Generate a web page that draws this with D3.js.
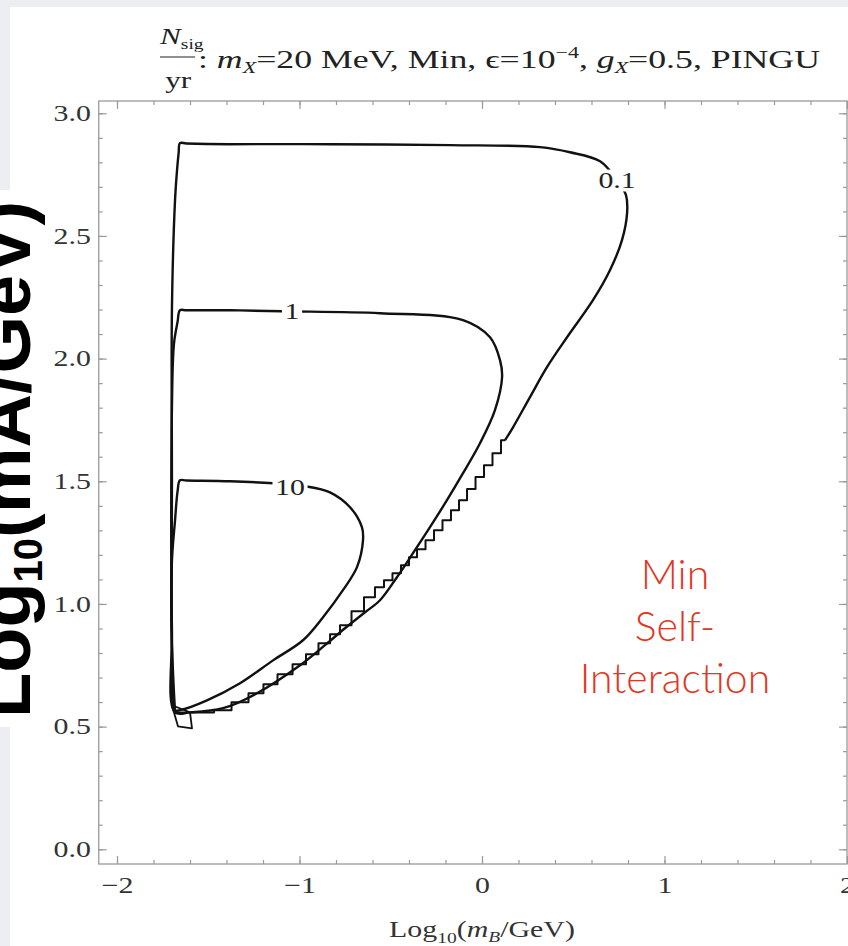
<!DOCTYPE html>
<html>
<head>
<meta charset="utf-8">
<script src="https://cdn.jsdelivr.net/npm/d3@7"></script>
<style>
  body { margin: 0; background: #eceef2; }
  svg { display: block; }
  .tick text { font-family: "Liberation Serif", "Times New Roman", serif; font-size: 23px; fill: #333; }
</style>
</head>
<body>
<div id="box"></div>
<script>
// contour N_sig/yr = 0.1 (outer), smooth part: [log10 mB, log10 mA]
const c01 = [
  [-1.682, 0.558], [-1.699, 0.852], [-1.699, 1.500], [-1.699, 2.200], [-1.682, 2.646],
  [-1.671, 2.768], [-1.662, 2.840], [-1.655, 2.878], [-1.620, 2.877], [-1.381, 2.874],
  [-0.833, 2.874], [-0.175, 2.870], [0.318, 2.862], [0.482, 2.841], [0.647, 2.804],
  [0.740, 2.727], [0.789, 2.666], [0.795, 2.593], [0.767, 2.483], [0.701, 2.360],
  [0.608, 2.238], [0.466, 2.087], [0.356, 1.965], [0.263, 1.843], [0.170, 1.720],
  [0.126, 1.667]
];
// contour 0.1, jagged lower edge
const c01jag = [
  [0.126, 1.667], [0.082, 1.614], [0.033, 1.565], [-0.011, 1.517], [-0.060, 1.468],
  [-0.104, 1.423], [-0.148, 1.382], [-0.192, 1.341], [-0.241, 1.300], [-0.285, 1.260],
  [-0.334, 1.223], [-0.378, 1.190], [-0.422, 1.158], [-0.466, 1.125], [-0.515, 1.097],
  [-0.559, 1.068], [-0.614, 1.027], [-0.679, 0.970], [-0.751, 0.913], [-0.805, 0.876],
  [-0.860, 0.840], [-0.932, 0.795], [-0.997, 0.754], [-1.079, 0.713], [-1.162, 0.673],
  [-1.233, 0.636], [-1.326, 0.599], [-1.419, 0.567], [-1.518, 0.558], [-1.600, 0.558],
  [-1.682, 0.558]
];
// small artefact at the bottom corner
const c01knot = [[-1.699, 0.587], [-1.666, 0.501], [-1.589, 0.493], [-1.600, 0.558]];

// contour 1
const c1 = [
  [-1.699, 1.800], [-1.688, 2.060], [-1.668, 2.150], [-1.655, 2.197], [-1.620, 2.197],
  [-1.381, 2.197], [-1.096, 2.193], [-0.559, 2.185], [-0.104, 2.157], [0.044, 2.087],
  [0.099, 1.993], [0.110, 1.924], [0.071, 1.790], [-0.011, 1.655], [-0.104, 1.533],
  [-0.192, 1.423], [-0.285, 1.313], [-0.378, 1.207], [-0.466, 1.109], [-0.559, 1.015],
  [-0.641, 0.966], [-0.751, 0.901], [-0.860, 0.832], [-0.997, 0.750], [-1.233, 0.636],
  [-1.419, 0.575], [-1.600, 0.558], [-1.682, 0.558], [-1.699, 0.900]
];

// contour 10
const c10 = [
  [-1.682, 0.567], [-1.699, 0.811], [-1.699, 1.175], [-1.682, 1.341], [-1.668, 1.460],
  [-1.655, 1.504], [-1.620, 1.503], [-1.381, 1.500], [-1.145, 1.492], [-0.970, 1.480],
  [-0.833, 1.455], [-0.723, 1.394], [-0.658, 1.313], [-0.652, 1.260], [-0.685, 1.150],
  [-0.762, 1.056], [-0.871, 0.946], [-0.981, 0.852], [-1.145, 0.770], [-1.326, 0.677],
  [-1.507, 0.607], [-1.655, 0.567]
];

const contourLabels = [
  { text: "0.1", pos: [0.740, 2.727] },
  { text: "1", pos: [-1.041, 2.193] },
  { text: "10", pos: [-1.052, 1.476] }
];

const xMajor = [-2, -1, 0, 1, 2];
const yMajor = [0, 0.5, 1, 1.5, 2, 2.5, 3];
const xMinor = d3.range(-2, 2.01, 0.2);
const yMinor = d3.range(0, 3.01, 0.1);

const W = 848, H = 946;
const frameColor = "#9a9a9a";
const serif = '"Liberation Serif", "Times New Roman", serif';
const stretch = 1.3;

const svg = d3.select('#box').append('svg')
    .attr('width', W)
    .attr('height', H);

svg.append('rect').attr('width', W).attr('height', H).attr('fill', '#eceef2');
svg.append('rect').attr('x', 10).attr('y', 7).attr('width', W - 10).attr('height', H - 7).attr('fill', '#fff');

const x = d3.scaleLinear().domain([-2.1, 2.0]).range([98.75, 847]);
const y = d3.scaleLinear().domain([-0.06, 3.05]).range([864, 101]);

// frame
svg.append('rect')
    .attr('x', x(-2.1)).attr('y', y(3.05))
    .attr('width', x(2.0) - x(-2.1)).attr('height', y(-0.06) - y(3.05))
    .attr('fill', 'none').attr('stroke', frameColor).attr('stroke-width', 1.3);

function styleAxis(g) {
  g.select('.domain').remove();
  g.selectAll('.tick line').attr('stroke', frameColor).attr('stroke-width', 1.2);
}

// bottom
svg.append('g').attr('transform', `translate(0,${y(-0.06)})`)
    .call(d3.axisBottom(x).tickValues(xMinor).tickSize(-4).tickFormat(''))
    .call(styleAxis);
svg.append('g').attr('transform', `translate(0,${y(-0.06)})`)
    .call(d3.axisBottom(x).tickValues(xMajor).tickSizeInner(-8).tickSizeOuter(0).tickPadding(13).tickFormat(d3.format('d')))
    .call(styleAxis)
    .call(g => g.selectAll('text').attr('transform', `scale(${stretch},1)`));
// top
svg.append('g').attr('transform', `translate(0,${y(3.05)})`)
    .call(d3.axisTop(x).tickValues(xMinor).tickSize(-4).tickFormat(''))
    .call(styleAxis);
svg.append('g').attr('transform', `translate(0,${y(3.05)})`)
    .call(d3.axisTop(x).tickValues(xMajor).tickSize(-8).tickFormat(''))
    .call(styleAxis);
// left
svg.append('g').attr('transform', `translate(${x(-2.1)},0)`)
    .call(d3.axisLeft(y).tickValues(yMinor).tickSize(-4).tickFormat(''))
    .call(styleAxis);
svg.append('g').attr('transform', `translate(${x(-2.1)},0)`)
    .call(d3.axisLeft(y).tickValues(yMajor).tickSizeInner(-8).tickSizeOuter(0).tickPadding(6).tickFormat(d3.format('.1f')))
    .call(styleAxis)
    .call(g => g.selectAll('text').attr('transform', `scale(${stretch},1)`));
// right
svg.append('g').attr('transform', `translate(${x(2.0)},0)`)
    .call(d3.axisRight(y).tickValues(yMinor).tickSize(-4).tickFormat(''))
    .call(styleAxis);
svg.append('g').attr('transform', `translate(${x(2.0)},0)`)
    .call(d3.axisRight(y).tickValues(yMajor).tickSize(-8).tickFormat(''))
    .call(styleAxis);

// contours
const smooth = d3.line().x(d => x(d[0])).y(d => y(d[1])).curve(d3.curveCatmullRom.alpha(0.5));
const closed = d3.line().x(d => x(d[0])).y(d => y(d[1])).curve(d3.curveCatmullRomClosed.alpha(0.5));
const stairs = d3.line().x(d => x(d[0])).y(d => y(d[1])).curve(d3.curveStep);
const poly = d3.line().x(d => x(d[0])).y(d => y(d[1])).curve(d3.curveLinearClosed);

const lines = svg.append('g').attr('fill', 'none').attr('stroke', '#111')
    .attr('stroke-width', 2.4).attr('stroke-linejoin', 'round');
lines.append('path').attr('d', smooth(c01));
lines.append('path').attr('d', stairs(c01jag)).attr('stroke-width', 2);
lines.append('path').attr('d', poly(c01knot)).attr('stroke-width', 1.8);
lines.append('path').attr('d', closed(c1));
lines.append('path').attr('d', closed(c10));

// contour labels with white gap
contourLabels.forEach(l => {
  const g = svg.append('g')
      .attr('transform', `translate(${x(l.pos[0])},${y(l.pos[1])}) scale(${stretch},1)`);
  const bg = g.append('rect').attr('fill', '#fff');
  const t = g.append('text')
      .attr('text-anchor', 'middle').attr('dy', '0.35em')
      .attr('font-family', serif).attr('font-size', 23).attr('fill', '#222')
      .text(l.text);
  const b = t.node().getBBox();
  bg.attr('x', b.x - 2).attr('y', b.y + 2).attr('width', b.width + 4).attr('height', b.height - 4);
});

// title: fraction N_sig / yr
const frac = svg.append('g').attr('transform', `translate(160,0) scale(${stretch},1)`)
    .attr('font-family', serif).attr('fill', '#222');
frac.append('text').attr('x', 0).attr('y', 44).attr('font-size', 24)
    .call(t => {
      t.append('tspan').attr('font-style', 'italic').text('N');
      t.append('tspan').attr('font-size', 15).attr('dy', 5).text('sig');
    });
frac.append('line').attr('x1', 0).attr('x2', 27).attr('y1', 57).attr('y2', 57)
    .attr('stroke', '#222').attr('stroke-width', 1.2);
frac.append('text').attr('x', 4).attr('y', 88).attr('font-size', 24).text('yr');

// title: rest of the line
svg.append('g').attr('transform', 'translate(198,68) scale(1.375,1)')
  .append('text').attr('font-family', serif).attr('font-size', 26).attr('fill', '#222')
    .call(t => {
      t.append('tspan').text(': ');
      t.append('tspan').attr('font-style', 'italic').text('m');
      t.append('tspan').attr('font-style', 'italic').attr('font-size', 16).attr('dy', 5).text('X');
      t.append('tspan').attr('dy', -5).text('=20 MeV, Min, \u03F5=10');
      t.append('tspan').attr('font-size', 16).attr('dy', -10).text('\u22124');
      t.append('tspan').attr('dy', 10).text(', ');
      t.append('tspan').attr('font-style', 'italic').text('g');
      t.append('tspan').attr('font-style', 'italic').attr('font-size', 16).attr('dy', 5).text('X');
      t.append('tspan').attr('dy', -5).text('=0.5, PINGU');
    });

// x axis title
svg.append('g').attr('transform', `translate(482,937) scale(1.3,1)`)
  .append('text').attr('text-anchor', 'middle')
    .attr('font-family', serif).attr('font-size', 23).attr('fill', '#333')
    .call(t => {
      t.append('tspan').text('Log');
      t.append('tspan').attr('font-size', 15).attr('dy', 6).text('10');
      t.append('tspan').attr('dy', -6).text('(');
      t.append('tspan').attr('font-style', 'italic').text('m');
      t.append('tspan').attr('font-style', 'italic').attr('font-size', 15).attr('dy', 5).text('B');
      t.append('tspan').attr('dy', -5).text('/GeV)');
    });

// slide overlay: big y label on a white strip
svg.append('rect').attr('x', 0).attr('y', 190).attr('width', 43).attr('height', 537).attr('fill', '#fff');
svg.append('text')
    .attr('transform', 'translate(30,718) rotate(-90)')
    .attr('font-family', '"Liberation Sans", Arial, sans-serif').attr('font-weight', 'bold')
    .attr('font-size', 74).attr('fill', '#000')
    .call(t => {
      t.append('tspan').text('Log');
      t.append('tspan').attr('font-size', 40).attr('dy', 12).text('10');
      t.append('tspan').attr('dy', -12).text('(mA/GeV)');
    });

// slide overlay: red note
const note = ['Min', 'Self-', 'Interaction'];
svg.append('g').attr('font-family', 'Lato, "Open Sans", sans-serif').attr('font-weight', 300)
    .attr('font-size', 41).attr('fill', '#e2361f').attr('text-anchor', 'middle')
  .selectAll('text').data(note).join('text')
    .attr('x', 675).attr('y', (d, i) => 589 + i * 52)
    .text(d => d);
</script>
</body>
</html>
